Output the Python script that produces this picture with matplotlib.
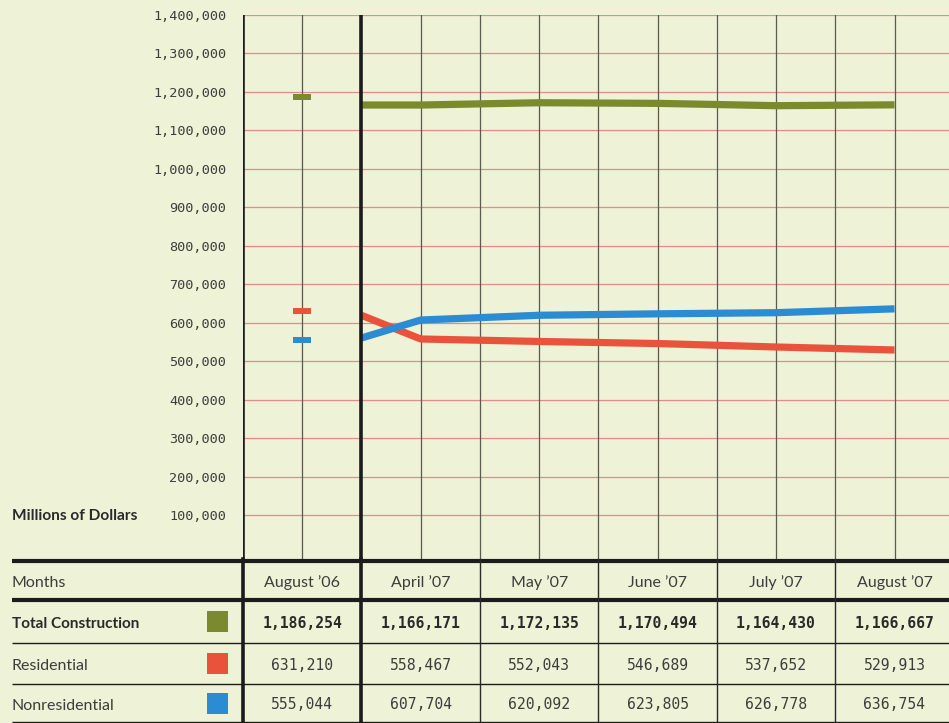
import matplotlib
matplotlib.use("Agg")
import matplotlib.pyplot as plt
from matplotlib.patches import Rectangle
import numpy as np

# ---------------- data ----------------
months = ["August \u201906", "April \u201907", "May \u201907", "June \u201907", "July \u201907", "August \u201907"]
series_names = ["Total Construction", "Residential", "Nonresidential"]
total = [1186254, 1166171, 1172135, 1170494, 1164430, 1166667]
residential = [631210, 558467, 552043, 546689, 537652, 529913]
nonresidential = [555044, 607704, 620092, 623805, 626778, 636754]
# value where each 2007 line begins at the left edge of the April '07 column
line_start = [1166171, 620000, 561000]
yticks = list(range(100000, 1400001, 100000))

colors = ["#7b8a2c", "#e9533b", "#2b8bd3"]
bg = "#eef2d6"
txt = "#3d3d3d"
grid_red = "#e58a8f"

W, H = 949, 723
fig = plt.figure(figsize=(W / 100, H / 100), dpi=100, facecolor=bg)

# ---------------- chart ----------------
ax = fig.add_axes([243 / W, (H - 559) / H, 706 / W, (559 - 15) / H])
ax.set_facecolor(bg)
XMAX = 5.46
ax.set_xlim(-0.5, XMAX)
ax.set_ylim(-13000, 1400000)
for s in ax.spines.values():
    s.set_visible(False)
ax.set_xticks([])
ax.set_yticks(yticks)
ax.set_yticklabels([f"{v:,}" for v in yticks], family="DejaVu Sans Mono", fontsize=9.7, color=txt)
ax.tick_params(axis="y", length=0, pad=12)

for v in yticks:
    ax.axhline(v, color=grid_red, lw=0.9, zorder=1)
for xv in np.arange(0, 5.5, 0.5):
    if abs(xv - 0.5) > 1e-9:
        ax.axvline(xv, color="#5a5a50", lw=0.9, zorder=1)

all_series = [total, residential, nonresidential]
px_per_unit = 706 / (XMAX + 0.5)
rect_marker = [(-1, -0.4), (1, -0.4), (1, 0.4), (-1, 0.4), (-1, -0.4)]
for vals, start, col in zip(all_series, line_start, colors):
    xs = [0.5] + list(range(1, len(vals)))
    ys = [start] + vals[1:]
    ax.plot(xs, ys, color=col, lw=5.2, solid_capstyle="butt", solid_joinstyle="round", zorder=3)
    ax.plot([0], [vals[0]], linestyle="none", marker=rect_marker, markersize=12.5,
            markerfacecolor=col, markeredgewidth=0, zorder=3)

# thick black verticals
for xv in (-0.5, 0.5):
    ax.axvline(xv, color="#1c1c1c", lw=2.6, zorder=4)

fig.text(12 / W, 1 - 516 / H, "Millions of Dollars", family="Lato", fontweight="bold",
         fontsize=11.1, color="#2a2a2a", va="center", ha="left")

# ---------------- table ----------------
tab = fig.add_axes([243 / W, 0, 706 / W, (H - 559) / H])
tab.set_xlim(-0.5, XMAX)
tab.set_ylim(164, 0)
tab.axis("off")


def px2x(px):
    return -0.5 + (px - 243) / px_per_unit


xl = px2x(12)
# horizontal rules
for yv, lw in [(1.5, 3.0), (41, 3.0), (84, 1.0), (125, 1.0), (162.5, 1.0)]:
    tab.plot([xl, XMAX], [yv, yv], color="#1c1c1c", lw=lw, clip_on=False,
             solid_capstyle="butt", zorder=3)
# vertical rules
for xv in (-0.5, 0.5):
    tab.plot([xv, xv], [0, 164], color="#1c1c1c", lw=2.6, clip_on=False, zorder=4)
for xv in (1.5, 2.5, 3.5, 4.5):
    tab.plot([xv, xv], [0, 164], color="#2a2a2a", lw=1.0, clip_on=False, zorder=3)

row_header_y = 21
row_ys = [62.5, 104.5, 144]
toff = 3
tab.text(xl, row_header_y + toff, "Months", family="Lato", fontsize=11.5, color=txt,
         va="center", ha="left", clip_on=False)
for i, m in enumerate(months):
    tab.text(i, row_header_y + toff, m, family="Lato", fontsize=11.5, color=txt, va="center", ha="center")

sw = 21 / px_per_unit
for r, (name, vals, col, yv) in enumerate(zip(series_names, all_series, colors, row_ys)):
    tab.text(xl, yv + toff, name, family="Lato", fontsize=11.0 if r == 0 else 11.5,
             color="#2a2a2a" if r == 0 else txt,
             fontweight="bold" if r == 0 else "normal", va="center", ha="left", clip_on=False)
    tab.add_patch(Rectangle((px2x(207), yv - 10.5), sw, 21, facecolor=col, edgecolor="none",
                            clip_on=False, zorder=3))
    for i, v in enumerate(vals):
        tab.text(i, yv + 1.5, f"{v:,}", family="DejaVu Sans Mono", fontsize=10.6,
                 fontweight="bold" if r == 0 else "normal", color="#2a2a2a" if r == 0 else txt,
                 va="center", ha="center")

fig.savefig("out.png", dpi=100, facecolor=bg)
